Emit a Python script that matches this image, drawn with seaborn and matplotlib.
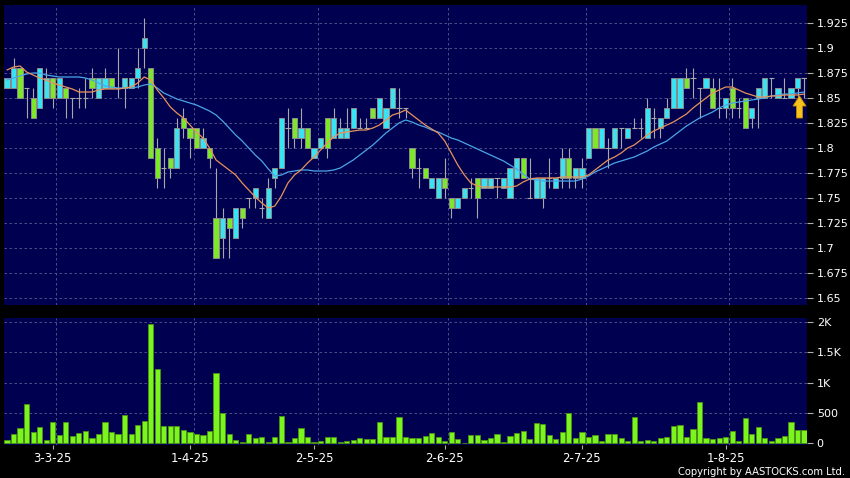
import numpy as np
import pandas as pd
import seaborn as sns
import matplotlib.pyplot as plt
from matplotlib.patches import FancyArrow

sns.set_theme(style="dark")
plt.rcParams['font.family'] = ['DejaVu Sans']

# daily bars, 20-2-25 .. 19-8-25 (123 trading days)
opens = [1.86, 1.86, 1.88, 1.86, 1.85, 1.84, 1.85, 1.87, 1.85, 1.86,
         1.85, 1.85, 1.85, 1.87, 1.85, 1.86, 1.87, 1.86, 1.86, 1.86,
         1.87, 1.90, 1.88, 1.80, 1.78, 1.79, 1.78, 1.83, 1.82, 1.82,
         1.80, 1.80, 1.73, 1.71, 1.73, 1.71, 1.74, 1.75, 1.75, 1.74,
         1.73, 1.77, 1.78, 1.82, 1.83, 1.81, 1.82, 1.79, 1.80, 1.83,
         1.81, 1.81, 1.81, 1.82, 1.82, 1.82, 1.84, 1.83, 1.82, 1.84,
         1.84, 1.84, 1.80, 1.78, 1.78, 1.76, 1.75, 1.77, 1.75, 1.74,
         1.75, 1.76, 1.77, 1.76, 1.76, 1.77, 1.76, 1.75, 1.77, 1.79,
         1.75, 1.75, 1.75, 1.77, 1.76, 1.77, 1.79, 1.77, 1.77, 1.79,
         1.82, 1.80, 1.80, 1.80, 1.82, 1.81, 1.82, 1.82, 1.81, 1.83,
         1.82, 1.83, 1.84, 1.84, 1.87, 1.87, 1.86, 1.86, 1.86, 1.84,
         1.84, 1.86, 1.84, 1.85, 1.83, 1.85, 1.85, 1.87, 1.85, 1.85,
         1.85, 1.86, 1.87]
highs = [1.87, 1.89, 1.88, 1.86, 1.86, 1.88, 1.88, 1.87, 1.87, 1.86,
         1.85, 1.86, 1.87, 1.88, 1.87, 1.88, 1.87, 1.90, 1.87, 1.87,
         1.90, 1.93, 1.88, 1.81, 1.80, 1.79, 1.83, 1.84, 1.82, 1.82,
         1.82, 1.80, 1.78, 1.74, 1.73, 1.74, 1.74, 1.75, 1.76, 1.75,
         1.77, 1.78, 1.83, 1.84, 1.83, 1.84, 1.82, 1.80, 1.81, 1.83,
         1.84, 1.83, 1.84, 1.84, 1.83, 1.83, 1.84, 1.85, 1.84, 1.86,
         1.86, 1.84, 1.80, 1.79, 1.78, 1.77, 1.77, 1.79, 1.75, 1.75,
         1.76, 1.77, 1.77, 1.77, 1.77, 1.77, 1.77, 1.78, 1.79, 1.79,
         1.79, 1.77, 1.77, 1.79, 1.77, 1.80, 1.80, 1.78, 1.79, 1.82,
         1.82, 1.82, 1.81, 1.82, 1.82, 1.82, 1.83, 1.83, 1.85, 1.84,
         1.83, 1.85, 1.87, 1.87, 1.88, 1.88, 1.86, 1.87, 1.87, 1.87,
         1.85, 1.87, 1.85, 1.85, 1.84, 1.86, 1.87, 1.87, 1.86, 1.87,
         1.86, 1.87, 1.87]
lows = [1.86, 1.86, 1.85, 1.83, 1.83, 1.84, 1.85, 1.84, 1.85, 1.83,
        1.83, 1.84, 1.84, 1.85, 1.85, 1.86, 1.86, 1.85, 1.84, 1.86,
        1.86, 1.88, 1.79, 1.76, 1.76, 1.77, 1.78, 1.81, 1.79, 1.80,
        1.80, 1.78, 1.69, 1.69, 1.69, 1.71, 1.72, 1.74, 1.74, 1.73,
        1.73, 1.76, 1.78, 1.80, 1.80, 1.80, 1.80, 1.79, 1.80, 1.79,
        1.81, 1.81, 1.81, 1.82, 1.82, 1.82, 1.83, 1.83, 1.82, 1.84,
        1.83, 1.83, 1.77, 1.76, 1.77, 1.76, 1.75, 1.75, 1.73, 1.74,
        1.75, 1.75, 1.73, 1.76, 1.76, 1.75, 1.76, 1.75, 1.77, 1.77,
        1.75, 1.75, 1.74, 1.76, 1.76, 1.76, 1.76, 1.76, 1.76, 1.79,
        1.80, 1.80, 1.78, 1.80, 1.80, 1.81, 1.82, 1.81, 1.81, 1.81,
        1.81, 1.83, 1.84, 1.84, 1.86, 1.85, 1.83, 1.86, 1.84, 1.83,
        1.83, 1.83, 1.83, 1.82, 1.82, 1.82, 1.85, 1.85, 1.85, 1.85,
        1.85, 1.85, 1.85]
closes = [1.87, 1.88, 1.85, 1.86, 1.83, 1.88, 1.87, 1.85, 1.87, 1.85,
          1.85, 1.85, 1.85, 1.86, 1.87, 1.87, 1.86, 1.86, 1.87, 1.87,
          1.88, 1.91, 1.79, 1.77, 1.78, 1.78, 1.82, 1.82, 1.81, 1.80,
          1.81, 1.79, 1.69, 1.73, 1.72, 1.74, 1.73, 1.75, 1.76, 1.74,
          1.76, 1.78, 1.83, 1.82, 1.81, 1.82, 1.80, 1.80, 1.81, 1.80,
          1.83, 1.82, 1.82, 1.84, 1.82, 1.82, 1.83, 1.85, 1.84, 1.86,
          1.84, 1.84, 1.78, 1.78, 1.77, 1.77, 1.77, 1.76, 1.74, 1.75,
          1.76, 1.76, 1.75, 1.77, 1.77, 1.77, 1.77, 1.78, 1.79, 1.77,
          1.75, 1.77, 1.77, 1.77, 1.77, 1.79, 1.77, 1.78, 1.78, 1.82,
          1.80, 1.82, 1.80, 1.82, 1.82, 1.82, 1.82, 1.82, 1.84, 1.83,
          1.83, 1.84, 1.87, 1.87, 1.86, 1.87, 1.86, 1.87, 1.84, 1.84,
          1.85, 1.84, 1.84, 1.82, 1.84, 1.86, 1.87, 1.87, 1.86, 1.85,
          1.86, 1.87, 1.87]
# moving averages as drawn on the chart
ma10 = [1.878, 1.881, 1.882, 1.876, 1.873, 1.870, 1.868, 1.865, 1.863, 1.861,
        1.859, 1.856, 1.856, 1.856, 1.858, 1.859, 1.859, 1.859, 1.860, 1.861,
        1.865, 1.871, 1.868, 1.858, 1.850, 1.841, 1.835, 1.830, 1.823, 1.816,
        1.810, 1.800, 1.788, 1.783, 1.778, 1.773, 1.765, 1.758, 1.751, 1.745,
        1.740, 1.742, 1.752, 1.765, 1.773, 1.778, 1.785, 1.791, 1.798, 1.805,
        1.811, 1.815, 1.816, 1.817, 1.818, 1.818, 1.820, 1.823, 1.828, 1.833,
        1.835, 1.838, 1.833, 1.828, 1.823, 1.819, 1.815, 1.807, 1.795, 1.783,
        1.773, 1.765, 1.762, 1.761, 1.761, 1.761, 1.761, 1.761, 1.762, 1.766,
        1.769, 1.770, 1.770, 1.770, 1.770, 1.771, 1.771, 1.771, 1.771, 1.773,
        1.778, 1.783, 1.788, 1.791, 1.795, 1.800, 1.803, 1.808, 1.813, 1.817,
        1.820, 1.823, 1.826, 1.830, 1.834, 1.840, 1.845, 1.850, 1.855, 1.858,
        1.861, 1.861, 1.858, 1.855, 1.853, 1.851, 1.851, 1.852, 1.852, 1.853,
        1.853, 1.853, 1.854]
ma20 = [1.868, 1.870, 1.872, 1.874, 1.875, 1.875, 1.873, 1.872, 1.871, 1.871,
        1.871, 1.871, 1.870, 1.868, 1.865, 1.862, 1.861, 1.860, 1.860, 1.860,
        1.861, 1.863, 1.864, 1.860, 1.855, 1.852, 1.849, 1.847, 1.845, 1.843,
        1.840, 1.837, 1.833, 1.827, 1.820, 1.813, 1.807, 1.800, 1.793, 1.787,
        1.779, 1.772, 1.773, 1.776, 1.777, 1.778, 1.778, 1.777, 1.777, 1.777,
        1.778, 1.780, 1.784, 1.788, 1.793, 1.798, 1.803, 1.809, 1.815, 1.820,
        1.825, 1.828, 1.826, 1.823, 1.821, 1.818, 1.816, 1.813, 1.810, 1.808,
        1.805, 1.802, 1.799, 1.796, 1.793, 1.790, 1.787, 1.783, 1.779, 1.774,
        1.769, 1.768, 1.767, 1.767, 1.767, 1.767, 1.767, 1.767, 1.769, 1.772,
        1.776, 1.779, 1.782, 1.785, 1.787, 1.789, 1.791, 1.794, 1.797, 1.801,
        1.804, 1.807, 1.812, 1.817, 1.822, 1.826, 1.830, 1.833, 1.836, 1.840,
        1.843, 1.845, 1.846, 1.847, 1.848, 1.849, 1.850, 1.852, 1.853, 1.854,
        1.854, 1.855, 1.856]
volume = [56, 161, 256, 650, 189, 267, 61, 356, 144, 356,
          122, 167, 206, 94, 150, 350, 183, 156, 461, 156,
          300, 367, 1967, 1217, 278, 278, 278, 222, 194, 150,
          133, 211, 1167, 500, 161, 56, 17, 150, 94, 100,
          17, 106, 456, 22, 83, 256, 106, 28, 33, 106,
          106, 17, 44, 56, 83, 67, 67, 344, 100, 100,
          433, 111, 94, 94, 122, 167, 111, 33, 194, 67,
          11, 139, 133, 56, 83, 156, 22, 122, 167, 200,
          72, 333, 322, 139, 72, 183, 494, 89, 194, 100,
          139, 44, 150, 150, 83, 33, 439, 44, 50, 39,
          83, 100, 278, 300, 111, 228, 678, 83, 67, 83,
          111, 211, 39, 411, 150, 272, 83, 39, 83, 128,
          350, 217, 217]

date_pos = [7, 28, 47, 67, 88, 110]
date_labels = ['3-3-25', '1-4-25', '2-5-25', '2-6-25', '2-7-25', '1-8-25']
price_ticks = [1.65, 1.675, 1.7, 1.725, 1.75, 1.775, 1.8, 1.825, 1.85, 1.875, 1.9, 1.925]
price_labels = ['1.65', '1.675', '1.7', '1.725', '1.75', '1.775', '1.8', '1.825',
                '1.85', '1.875', '1.9', '1.925']
vol_ticks = [0, 500, 1000, 1500, 2000]
vol_labels = ['0', '500', '1K', '1.5K', '2K']

df = pd.DataFrame({'o': opens, 'h': highs, 'l': lows, 'c': closes,
                   'ma10': ma10, 'ma20': ma20, 'vol': volume})
df['i'] = np.arange(len(df))

BG = '#000050'
UP = '#38e4f4'
DOWN = '#7de82a'
GRID = '#5a5a90'

fig = plt.figure(figsize=(8.5, 4.78), dpi=100, facecolor='black')
ax = fig.add_axes([4 / 850, 173 / 478, 803 / 850, 300 / 478])
axv = fig.add_axes([4 / 850, 33 / 478, 803 / 850, 127 / 478])

for a in (ax, axv):
    a.set_facecolor(BG)
    for s in a.spines.values():
        s.set_visible(False)
    for g in date_pos:
        a.axvline(g + 0.55, color=GRID, lw=0.6, ls=(0, (3, 3)), zorder=0)

for t in price_ticks:
    ax.axhline(t, color=GRID, lw=0.6, ls=(0, (3, 3)), zorder=0)
for t in vol_ticks[1:]:
    axv.axhline(t, color=GRID, lw=0.6, ls=(0, (3, 3)), zorder=0)

# candles
ax.vlines(df['i'], df['l'], df['h'], color='#a8a8a8', lw=0.8, zorder=2)
body = df[df['c'] != df['o']]
colors = np.where(body['c'] > body['o'], UP, DOWN)
ax.bar(body['i'], (body['c'] - body['o']).abs(), bottom=body[['o', 'c']].min(axis=1),
       width=0.8, color=colors, edgecolor='#8c8c8c', linewidth=0.7, zorder=3)
doji = df[df['c'] == df['o']]
ax.hlines(doji['o'], doji['i'] - 0.4, doji['i'] + 0.4, color='#a8a8a8', lw=0.8, zorder=3)

sns.lineplot(x=df['i'], y=df['ma20'], color='#4aa6e6', lw=0.9, ax=ax, zorder=4)
sns.lineplot(x=df['i'], y=df['ma10'], color='#e8925a', lw=0.9, ax=ax, zorder=5)

ax.add_patch(FancyArrow(121.3, 1.830, 0, 0.022, width=0.9, head_width=2.0,
                        head_length=0.010, length_includes_head=True,
                        fc='#f6c21c', ec='#c88a00', lw=0.6, zorder=6))

ax.set_xlim(-0.46, 122.45)
ax.set_ylim(1.643, 1.943)
ax.set_xticks([])
ax.set_xlabel('')
ax.set_ylabel('')
ax.yaxis.tick_right()
ax.set_yticks(price_ticks)
ax.set_yticklabels(price_labels)

# volume
sns.barplot(x=df['i'], y=df['vol'], native_scale=True, width=0.8, color='#7cf51e',
            saturation=1, edgecolor='#4a9414', linewidth=0.6, ax=axv, zorder=3)
axv.set_xlim(-0.46, 122.45)
axv.set_ylim(-28, 2066)
axv.set_xlabel('')
axv.set_ylabel('')
axv.yaxis.tick_right()
axv.set_yticks(vol_ticks)
axv.set_yticklabels(vol_labels)
axv.set_xticks(date_pos)
axv.set_xticklabels(date_labels)

for a in (ax, axv):
    a.tick_params(axis='y', colors='#b0b0b0', labelcolor='white', length=4,
                  width=0.8, pad=3, labelsize=8, right=True, left=False)
    a.grid(False)
axv.tick_params(axis='x', colors='#b0b0b0', labelcolor='white', length=3,
                width=0.8, pad=2, labelsize=8.5, bottom=True)

fig.text(0.994, 0.003, 'Copyright by AASTOCKS.com Ltd.', color='white',
         fontsize=7.2, ha='right', va='bottom')

fig.savefig('out.png', dpi=100, facecolor='black')
